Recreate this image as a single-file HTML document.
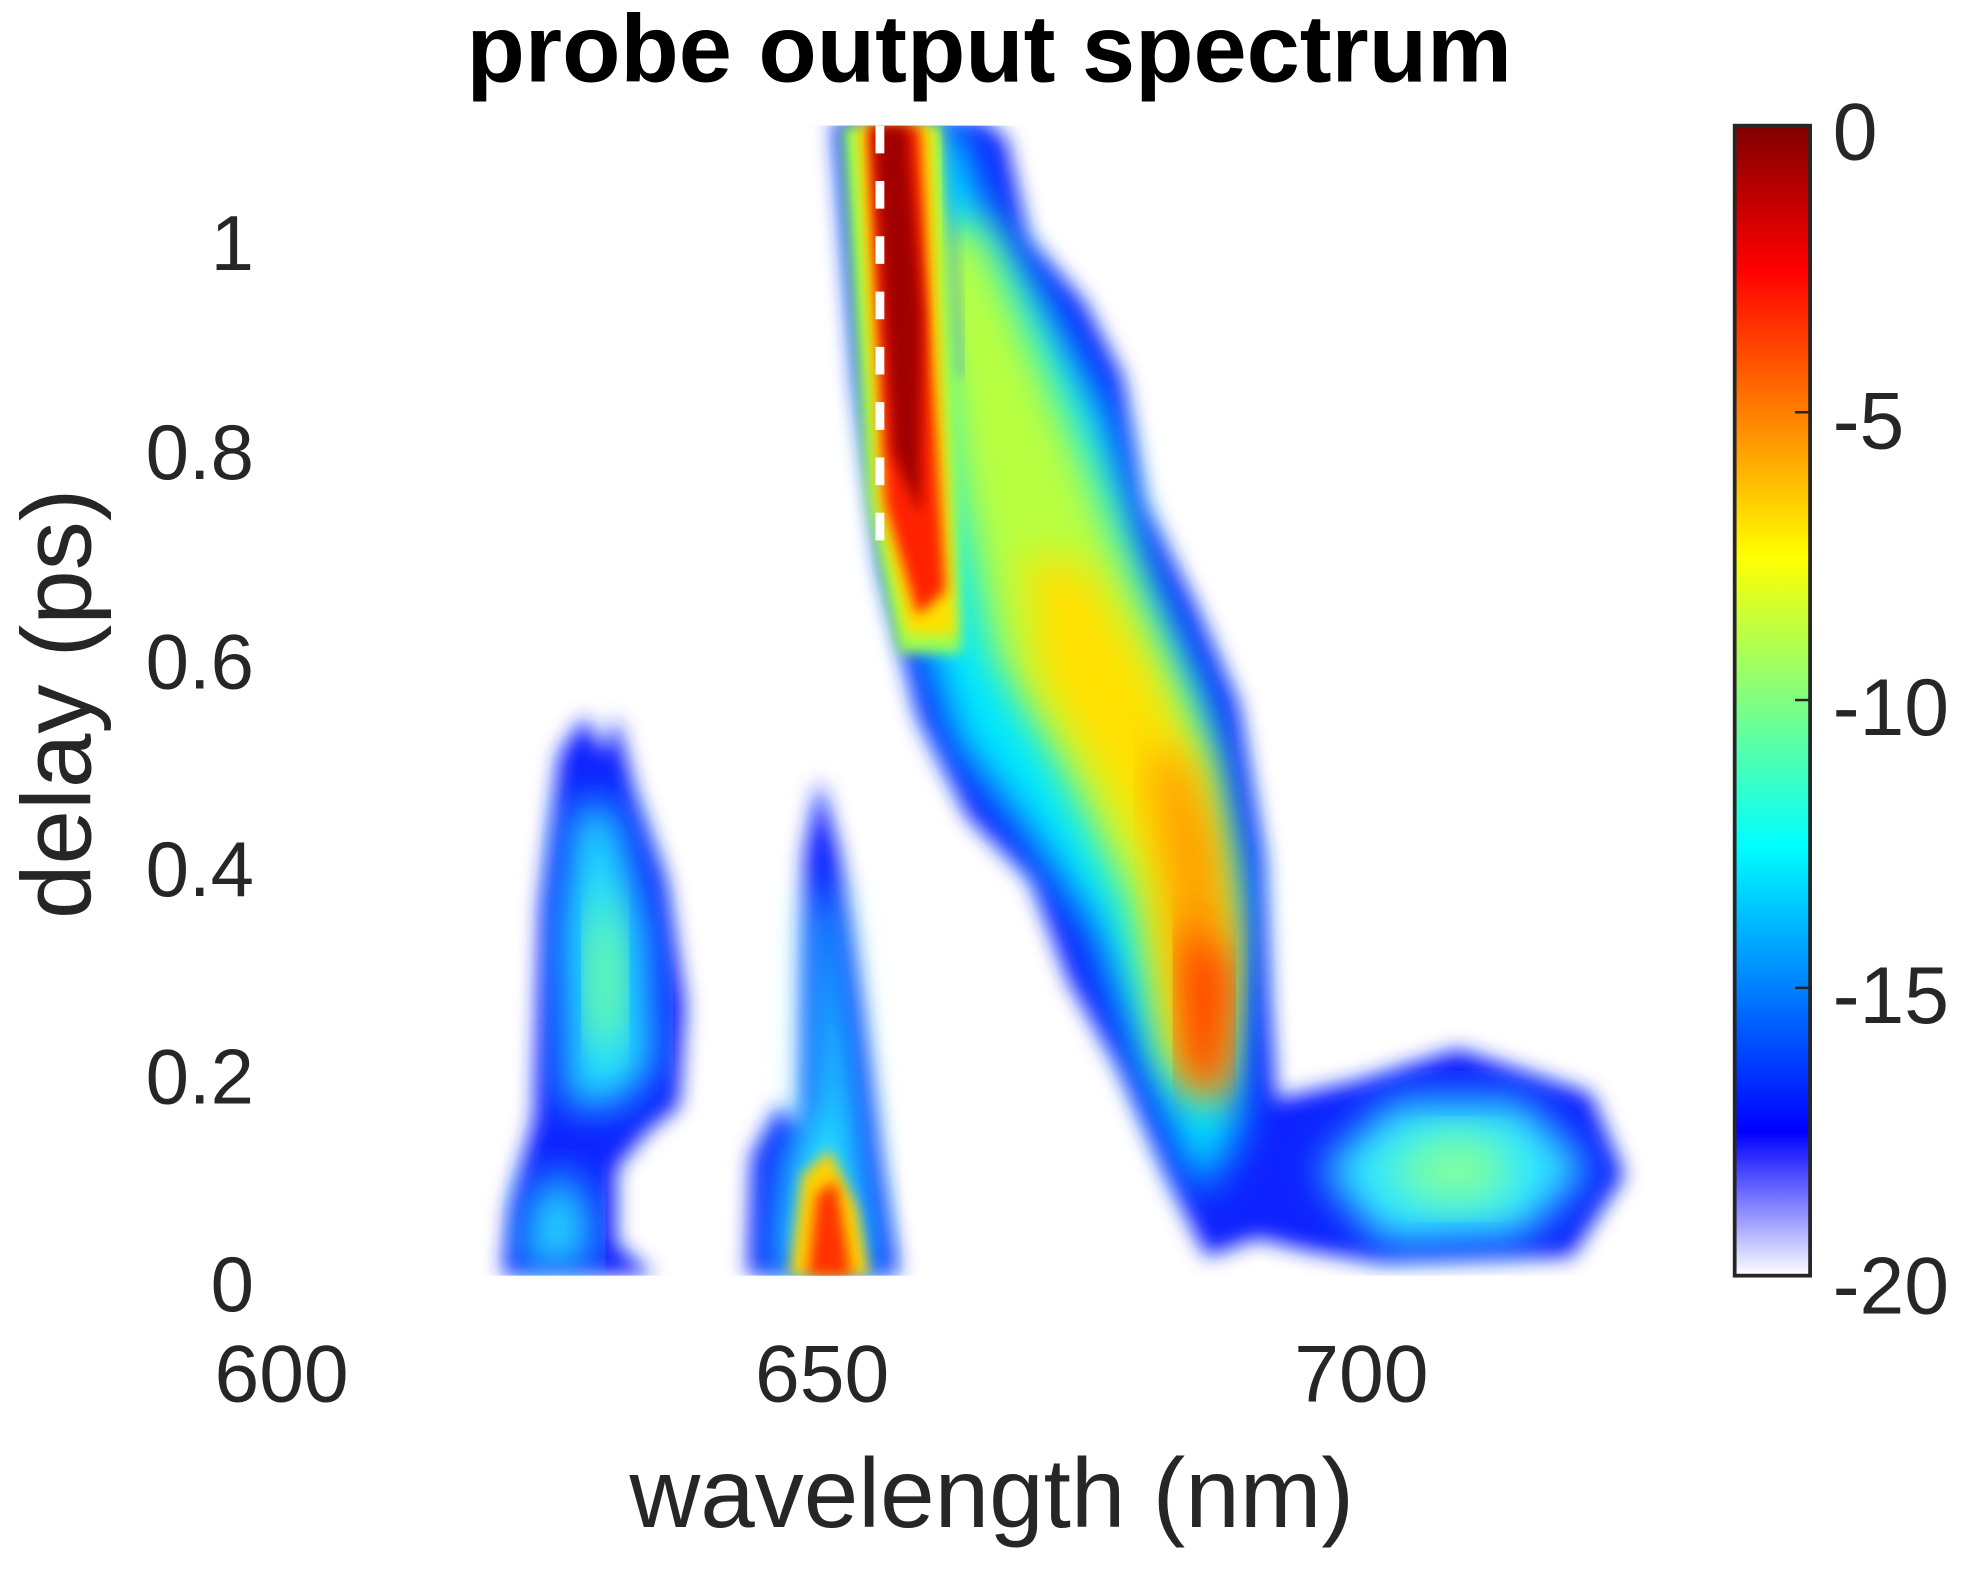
<!DOCTYPE html>
<html><head><style>
html,body{margin:0;padding:0;background:#fff;width:1971px;height:1571px;overflow:hidden}
svg{display:block}
text{font-family:"Liberation Sans",Arial,sans-serif;fill:#262626}
</style></head><body>
<svg width="1971" height="1571" viewBox="0 0 1568 1250" preserveAspectRatio="none">
<defs>
<linearGradient id="cb" x1="0" y1="1" x2="0" y2="0">
<stop offset="0" stop-color="#ffffff"/>
<stop offset="0.125" stop-color="#0000ff"/>
<stop offset="0.375" stop-color="#00ffff"/>
<stop offset="0.5" stop-color="#80ff80"/>
<stop offset="0.625" stop-color="#ffff00"/>
<stop offset="0.875" stop-color="#ff0000"/>
<stop offset="1" stop-color="#800000"/>
</linearGradient>
<filter id="b1" x="-20%" y="-20%" width="140%" height="140%"><feGaussianBlur stdDeviation="8"/></filter>
<filter id="b2" x="-20%" y="-20%" width="140%" height="140%"><feGaussianBlur stdDeviation="16"/></filter>
<filter id="b3" x="-20%" y="-20%" width="140%" height="140%"><feGaussianBlur stdDeviation="5"/></filter>
<clipPath id="pc"><rect x="228" y="100" width="1120" height="915"/></clipPath>
</defs>
<text x="787" y="65" font-size="76" font-weight="bold" text-anchor="middle" style="fill:#000">probe output spectrum</text>
<g clip-path="url(#pc)">
<path filter="url(#b1)" fill="#1020ff" d="M663,95 L680,300 L700,450 L730,570 L770,650 L820,700 L850,780 L890,850 L930,940 L960,1000 L1000,985 L1040,995 L1100,1005 L1250,1000 L1292,935 L1265,870 L1160,835 L1080,860 L1015,875 L1010,800 L1005,680 L985,560 L950,480 L910,400 L893,300 L862,240 L818,190 L800,110 L780,95 Z"/>
<path filter="url(#b2)" fill="#00e8ff" d="M685,100 L700,330 L720,470 L760,590 L815,660 L870,740 L910,850 L955,950 L985,900 L990,700 L960,560 L910,450 L880,330 L830,240 L780,160 L760,100 Z"/>
<path filter="url(#b2)" fill="#30e8ff" d="M1050,930 L1110,875 L1210,875 L1265,930 L1210,985 L1100,990 Z"/>
<path filter="url(#b2)" fill="#7fffa0" d="M1100,930 L1150,900 L1200,912 L1195,955 L1140,960 Z"/>
<path filter="url(#b2)" fill="#b8ff40" d="M735,180 L760,380 L790,520 L850,620 L900,720 L930,850 L965,880 L975,750 L960,600 L910,480 L870,380 L830,290 L780,180 Z"/>
<path filter="url(#b2)" fill="#ffe000" d="M815,440 L825,540 L875,620 L915,700 L935,830 L970,870 L978,740 L958,620 L915,530 L865,450 Z"/>
<path filter="url(#b2)" fill="#ff9a00" d="M915,600 L930,700 L940,830 L965,880 L980,780 L968,670 L940,600 Z"/>
<path filter="url(#b2)" fill="#ff3000" d="M940,730 L945,860 L970,870 L976,770 Z"/>
<path filter="url(#b3)" fill="#9dff50" d="M670,100 L690,400 L715,520 L765,520 L758,300 L750,100 Z"/>
<path filter="url(#b3)" fill="#ffe000" d="M682,100 L698,400 L722,505 L760,505 L750,300 L742,100 Z"/>
<path filter="url(#b3)" fill="#ff2000" d="M690,100 L704,400 L730,490 L752,470 L742,300 L732,100 Z"/>
<path filter="url(#b3)" fill="#a00000" d="M695,100 L710,360 L732,410 L734,250 L722,100 Z"/>
<path filter="url(#b3)" fill="none" stroke="#3060ff" stroke-width="5" opacity="0.5" d="M752,100 L765,300"/>
<line x1="700" y1="100" x2="700" y2="445" stroke="#fff" stroke-width="7" stroke-dasharray="22,22"/>
<!-- left blob A -->
<path filter="url(#b1)" fill="#1020ff" d="M400,1015 L405,960 L425,890 L430,720 L445,600 L465,570 L480,600 L490,570 L505,630 L530,700 L545,800 L540,880 L515,900 L490,930 L490,990 L520,1015 Z"/>
<path filter="url(#b2)" fill="#20e0ff" d="M445,740 L458,640 L488,640 L515,740 L520,850 L490,880 L450,880 Z"/>
<path filter="url(#b2)" fill="#80ff90" d="M468,760 L480,700 L495,760 L492,830 L470,830 Z"/>
<path filter="url(#b2)" fill="#20d0ff" d="M412,1010 L422,950 L450,930 L470,960 L470,1010 Z"/>
<!-- blob B -->
<path filter="url(#b1)" fill="#1020ff" d="M595,1015 L598,920 L620,880 L638,900 L640,680 L652,620 L668,680 L685,800 L700,920 L715,1015 Z"/>
<path filter="url(#b2)" fill="#20e0ff" d="M615,1015 L625,920 L645,880 L648,720 L662,700 L675,820 L690,950 L700,1015 Z"/>
<path filter="url(#b3)" fill="#ffd000" d="M628,1015 L638,935 L660,915 L682,960 L692,1015 Z"/>
<path filter="url(#b3)" fill="#ff3000" d="M643,1015 L650,950 L665,940 L677,1015 Z"/>
</g>
<g font-size="62" text-anchor="end">
<text x="202" y="1043">0</text>
<text x="202" y="878">0.2</text>
<text x="202" y="713">0.4</text>
<text x="202" y="548">0.6</text>
<text x="202" y="381">0.8</text>
<text x="202" y="215">1</text>
</g>
<g font-size="64" text-anchor="middle">
<text x="224" y="1115">600</text>
<text x="654" y="1115">650</text>
<text x="1083" y="1115">700</text>
</g>
<text x="789" y="1215" font-size="78" text-anchor="middle">wavelength (nm)</text>
<text transform="translate(72,560) rotate(-90)" font-size="78" text-anchor="middle">delay (ps)</text>
<rect x="1380" y="100" width="60" height="915" fill="url(#cb)" stroke="#262626" stroke-width="3"/>
<g stroke="#262626" stroke-width="2">
<line x1="1428" y1="328" x2="1440" y2="328"/>
<line x1="1428" y1="557" x2="1440" y2="557"/>
<line x1="1428" y1="786" x2="1440" y2="786"/>
</g>
<g font-size="64">
<text x="1458" y="127">0</text>
<text x="1458" y="357">-5</text>
<text x="1458" y="585">-10</text>
<text x="1458" y="814">-15</text>
<text x="1458" y="1045">-20</text>
</g>
</svg>
</body></html>
